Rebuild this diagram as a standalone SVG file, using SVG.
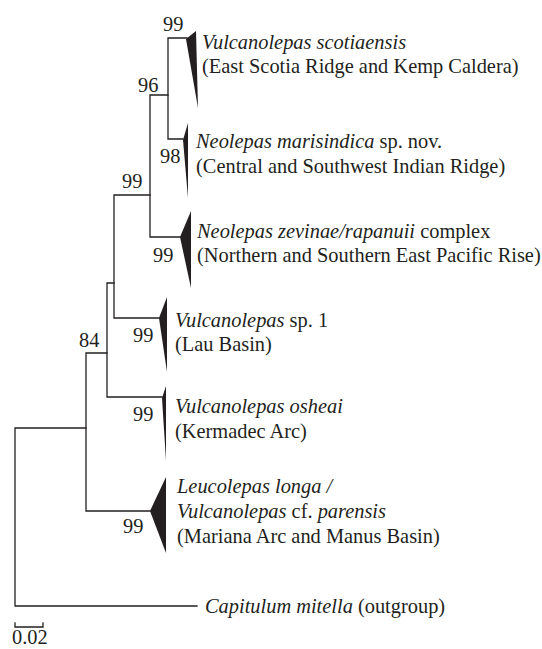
<svg xmlns="http://www.w3.org/2000/svg" width="542" height="649" viewBox="0 0 542 649">
<style>
text{font-family:"Liberation Serif","Times New Roman",serif;font-size:20.4px;fill:#231f20}
.i{font-style:italic}
.br{stroke:#231f20;stroke-width:1.3;fill:none;stroke-linecap:square}
.tri{fill:#231f20;stroke:none}
</style>
<rect width="542" height="649" fill="#fff"/>
<g id="connectors" class="br">
<path d="M15,428V606M15,428H86M15,606H197"/>
<path d="M86,353V511M86,353H107M86,511H150"/>
<path d="M107,283V397M107,283H114M107,397H162"/>
<path d="M114,195V318M114,195H150M114,318H159"/>
<path d="M150,95V237M150,95H168M150,237H180"/>
<path d="M168,38V139M168,38H187M168,139H183"/>
</g>
<g id="support">
<text x="163" y="31">99</text>
<text x="138" y="92">96</text>
<text x="160" y="163">98</text>
<text x="122" y="188">99</text>
<text x="153" y="262">99</text>
<text x="79" y="347">84</text>
<text x="133" y="342">99</text>
<text x="133" y="421">99</text>
<text x="123" y="533">99</text>
</g>
<g id="scotiaensis">
<polygon class="tri" points="186,39 196,31 198,108"/>
<text x="202" y="49"><tspan class="i">Vulcanolepas scotiaensis</tspan></text>
<text x="202" y="73">(East Scotia Ridge and Kemp Caldera)</text>
</g>
<g id="marisindica">
<polygon class="tri" points="183,140 188,123 188,198"/>
<text x="196" y="148"><tspan class="i">Neolepas marisindica</tspan> sp. nov.</text>
<text x="196" y="173">(Central and Southwest Indian Ridge)</text>
</g>
<g id="zevinae">
<polygon class="tri" points="180,237 191,211 191,288"/>
<text x="197" y="238"><tspan class="i">Neolepas zevinae/rapanuii</tspan> complex</text>
<text x="197" y="262">(Northern and Southern East Pacific Rise)</text>
</g>
<g id="sp1">
<polygon class="tri" points="159,318 167,297 167,372"/>
<text x="175" y="327"><tspan class="i">Vulcanolepas</tspan> sp. 1</text>
<text x="175" y="351">(Lau Basin)</text>
</g>
<g id="osheai">
<polygon class="tri" points="162,398 166,386 166,461"/>
<text x="175" y="413"><tspan class="i">Vulcanolepas osheai</tspan></text>
<text x="175" y="438">(Kermadec Arc)</text>
</g>
<g id="leucolepas">
<polygon class="tri" points="150,511 166,477 166,553"/>
<text x="177" y="493"><tspan class="i">Leucolepas longa /</tspan></text>
<text x="177" y="518"><tspan class="i">Vulcanolepas</tspan> cf. <tspan class="i">parensis</tspan></text>
<text x="177" y="543">(Mariana Arc and Manus Basin)</text>
</g>
<g id="capitulum">
<text x="205" y="613"><tspan class="i">Capitulum mitella</tspan> (outgroup)</text>
</g>
<g id="scale">
<path class="br" d="M15,627H43M15,623V627M43,623V627"/>
<text x="12" y="644">0.02</text>
</g>
</svg>
